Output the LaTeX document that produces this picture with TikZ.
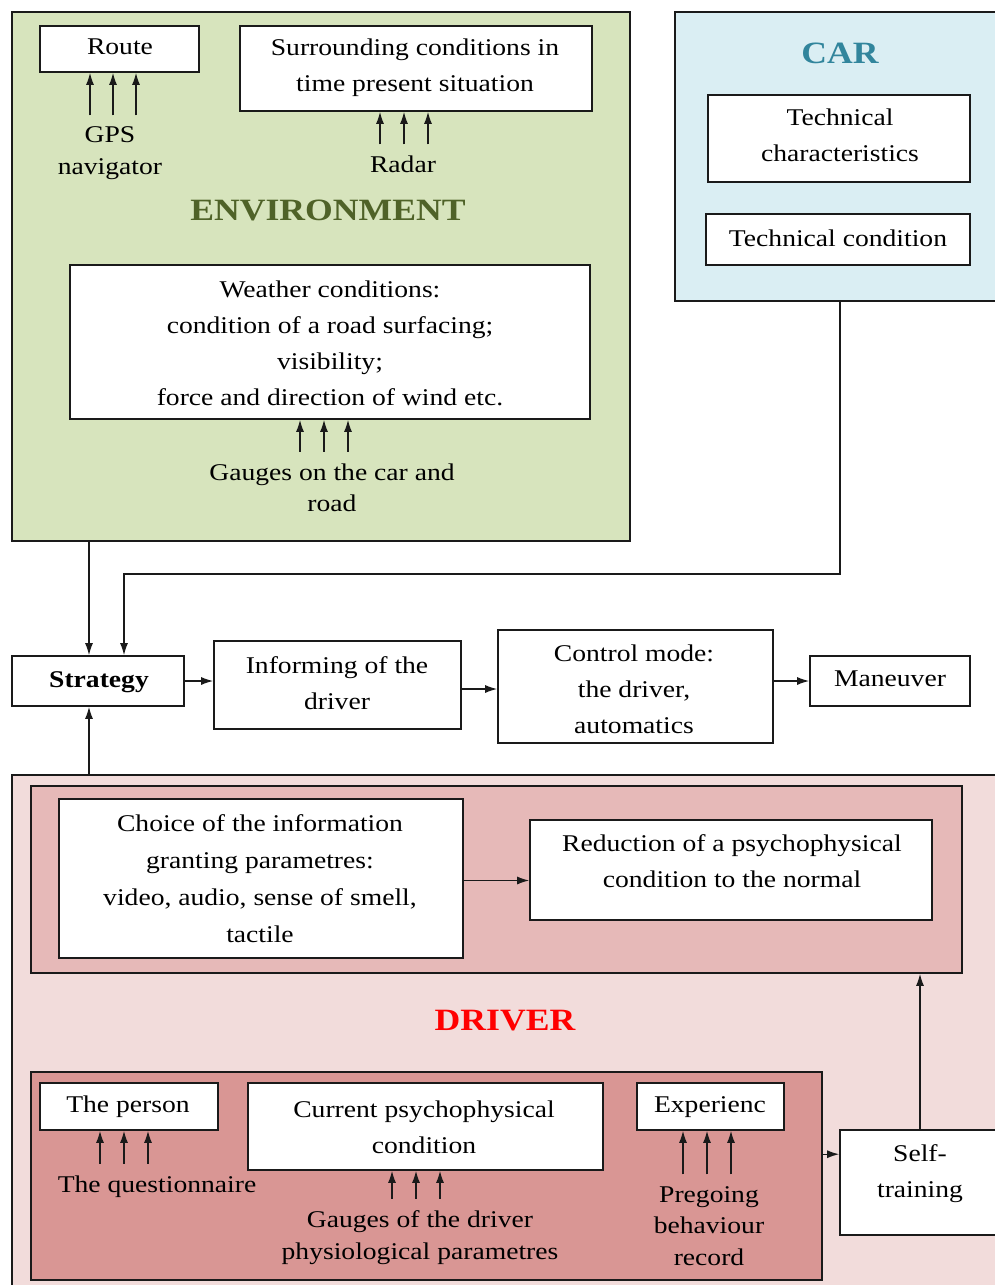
\documentclass[tikz,border=0pt]{standalone}
\usepackage{fontspec}
\setmainfont{Liberation Serif}[FakeStretch=1.15]
\usetikzlibrary{arrows.meta,fit}
\definecolor{envfill}{HTML}{D7E4BD}
\definecolor{envtitle}{HTML}{4F6228}
\definecolor{carfill}{HTML}{DAEEF3}
\definecolor{cartitle}{HTML}{31859C}
\definecolor{drvfill}{HTML}{F2DCDB}
\definecolor{drvup}{HTML}{E6B9B8}
\definecolor{drvlow}{HTML}{D99694}
\definecolor{drvtitle}{HTML}{FF0000}
\definecolor{lin}{HTML}{1A1A1A}
\tikzset{
  box/.style={draw=lin, line width=1.6pt, fill=white, inner sep=0pt},
  txt/.style={align=center, font=\fontsize{24}{36}\selectfont, inner sep=0pt},
  ttl/.style={font=\fontsize{31}{36}\selectfont\bfseries, inner sep=0pt},
  arr/.style={-{Latex[length=12pt,width=8pt]}, line width=1.4pt, draw=lin},
}
\begin{document}
\begin{tikzpicture}[x=1pt,y=-1pt]
\clip (0,0) rectangle (995,1285);
% ---------- ENVIRONMENT ----------
\node[box, fill=envfill, fit={(12,12) (630,541)}] (env) {};
\node[box, fit={(40,26) (199,72)}] (route) {};
\node[box, fit={(240,26) (592,111)}] (surr) {};
\node[box, fit={(70,265) (590,419)}] (weather) {};
\node[txt] (t-route) at (120,47) {Route};
\node[txt] (t-surr) at (415,68) {Surrounding conditions in\\time present situation};
\node[txt, font=\fontsize{24}{32}\selectfont] (gps) at (110,153) {GPS\\navigator};
\node[txt] (radar) at (403,164) {Radar};
\node[ttl, text=envtitle] (t-env) at (328,210) {ENVIRONMENT};
\node[txt] (t-weather) at (330,343) {Weather conditions:\\condition of a road surfacing;\\visibility;\\force and direction of wind etc.};
\node[txt, font=\fontsize{24}{31}\selectfont] (gauges) at (332,488) {Gauges on the car and\\road};
% ---------- CAR ----------
\node[box, fill=carfill, fit={(675,12) (1005,301)}] (car) {};
\node[box, fit={(708,95) (970,182)}] (techchar) {};
\node[box, fit={(706,214) (970,265)}] (techcond) {};
\node[ttl, text=cartitle] (t-car) at (840,53) {CAR};
\node[txt] (t-techchar) at (840,135) {Technical\\characteristics};
\node[txt] (t-techcond) at (838,238) {Technical condition};
% ---------- middle row ----------
\node[box, fit={(12,656) (184,706)}] (strategy) {};
\node[box, fit={(214,641) (461,729)}] (inform) {};
\node[box, fit={(498,630) (773,743)}] (control) {};
\node[box, fit={(810,656) (970,706)}] (maneuver) {};
\node[txt, font=\fontsize{24}{36}\selectfont\bfseries] (t-strategy) at (99,682) {Strategy};
\node[txt] (t-inform) at (337,683) {Informing of the\\driver};
\node[txt] (t-control) at (634,689) {Control mode:\\the driver,\\automatics};
\node[txt] (t-maneuver) at (890,679) {Maneuver};
% ---------- DRIVER ----------
\node[box, fill=drvfill, fit={(12,775) (1005,1300)}] (driver) {};
\node[box, fill=drvup, fit={(31,786) (962,973)}] (upper) {};
\node[box, fit={(59,799) (463,958)}] (choice) {};
\node[box, fit={(530,820) (932,920)}] (reduct) {};
\node[txt, font=\fontsize{24}{37}\selectfont] (t-choice) at (260,879) {Choice of the information\\granting parametres:\\video, audio, sense of smell,\\tactile};
\node[txt] (t-reduct) at (732,861) {Reduction of a psychophysical\\condition to the normal};
\node[ttl, text=drvtitle] (t-driver) at (505,1021) {DRIVER};
\node[box, fill=drvlow, fit={(31,1072) (822,1280)}] (lower) {};
\node[box, fit={(40,1083) (218,1130)}] (person) {};
\node[box, fit={(248,1083) (603,1170)}] (current) {};
\node[box, fit={(637,1083) (784,1130)}] (exper) {};
\node[box, fit={(840,1130) (1000,1235)}] (self) {};
\node[txt] (t-person) at (128,1107) {The person};
\node[txt] (t-current) at (424,1127) {Current psychophysical\\condition};
\node[txt] (t-exper) at (710,1107) {Experienc};
\node[txt] (quest) at (157,1187) {The questionnaire};
\node[txt, font=\fontsize{24}{32}\selectfont] (gdrv) at (420,1238) {Gauges of the driver\\physiological parametres};
\node[txt, font=\fontsize{24}{31.5}\selectfont] (preg) at (709,1226) {Pregoing\\behaviour\\record};
\node[txt] (t-self) at (920,1174) {Self-\\training};
% ---------- triple input arrows ----------
\foreach \dx [count=\i] in {-20,3,26}{
  \coordinate (g\i) at ([xshift=\dx pt,yshift=11pt]gps.north);
  \draw[arr] (g\i) -- (g\i |- route.south);}
\foreach \dx [count=\i] in {-23,1,25}{
  \coordinate (r\i) at ([xshift=\dx pt,yshift=11pt]radar.north);
  \draw[arr] (r\i) -- (r\i |- surr.south);}
\foreach \dx [count=\i] in {-32,-8,16}{
  \coordinate (w\i) at ([xshift=\dx pt,yshift=12pt]gauges.north);
  \draw[arr] (w\i) -- (w\i |- weather.south);}
\foreach \dx [count=\i] in {-57,-33,-9}{
  \coordinate (p\i) at ([xshift=\dx pt,yshift=12pt]quest.north);
  \draw[arr] (p\i) -- (p\i |- person.south);}
\foreach \dx [count=\i] in {-28,-4,20}{
  \coordinate (c\i) at ([xshift=\dx pt,yshift=12pt]gdrv.north);
  \draw[arr] (c\i) -- (c\i |- current.south);}
\foreach \dx [count=\i] in {-26,-2,22}{
  \coordinate (e\i) at ([xshift=\dx pt,yshift=12pt]preg.north);
  \draw[arr] (e\i) -- (e\i |- exper.south);}
% ---------- main connectors ----------
\coordinate (sL) at ([xshift=-9pt]strategy.north);
\coordinate (sR) at ([xshift=26pt]strategy.north);
\draw[arr] (sL |- env.south) -- (sL);
\draw[arr] (car.south) -- ++(0,272) -| (sR);
\draw[arr] (strategy.south -| sL) ++(0,69) -- (strategy.south -| sL);
\draw[arr] (strategy.east) -- (strategy.east -| inform.west);
\draw[arr] ([yshift=-4pt]inform.east) -- ([yshift=-4pt]inform.east -| control.west);
\draw[arr] (control.east |- maneuver.west) -- (maneuver.west);
\draw[arr] ([yshift=-2pt]choice.east) -- ([yshift=-2pt]choice.east -| reduct.west);
\coordinate (sw) at ([yshift=-25pt]self.north west);
\draw[arr] (sw -| lower.east) -- (sw);
\draw[arr] (self.north) -- (self.north |- upper.south);
\end{tikzpicture}
\end{document}
